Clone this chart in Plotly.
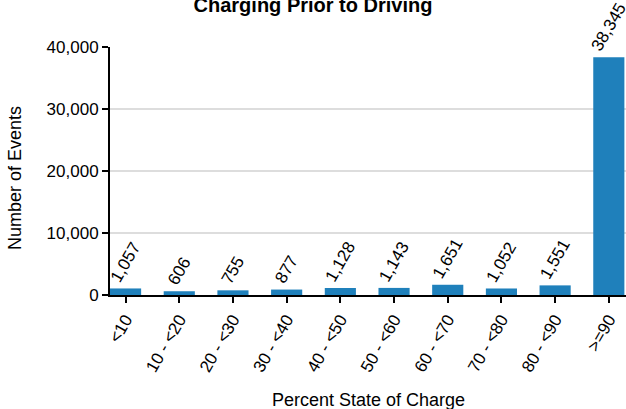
import plotly.graph_objects as go

categories = ["<10", "10 - <20", "20 - <30", "30 - <40", "40 - <50",
              "50 - <60", "60 - <70", "70 - <80", "80 - <90", ">=90"]
events = [1057, 606, 755, 877, 1128, 1143, 1651, 1052, 1551, 38345]
y_ticks = [0, 10000, 20000, 30000, 40000]
y_tick_labels = ["0", "10,000", "20,000", "30,000", "40,000"]

FONT = "Liberation Sans, Arial, sans-serif"

fig = go.Figure(go.Bar(
    x=categories, y=events,
    marker=dict(color="#1f80bb", line=dict(width=0)),
    width=0.58,
    text=[f"{v:,}" for v in events],
    textposition="outside",
    textangle=-60,
    constraintext="none",
    textfont=dict(family=FONT, size=17, color="black"),
    cliponaxis=False,
))

fig.update_layout(
    width=626, height=409,
    margin=dict(l=110, r=0, t=47, b=114),
    paper_bgcolor="white", plot_bgcolor="white",
    showlegend=False,
    title=dict(text="<b>Charging Prior to Driving</b>", x=0.5, xanchor="center",
               y=0.9866, yanchor="middle", yref="container",
               font=dict(family=FONT, size=20, color="black")),
    annotations=[
        dict(text="Percent State of Charge", xref="paper", yref="paper",
             x=0.5, y=-0.423, xanchor="center", yanchor="middle", showarrow=False,
             font=dict(family=FONT, size=18, color="black")),
        dict(text="Number of Events", xref="paper", yref="paper",
             x=-0.184, y=0.472, xanchor="center", yanchor="middle", showarrow=False,
             textangle=-90, font=dict(family=FONT, size=18, color="black")),
    ],
)

fig.update_xaxes(
    type="category", range=[-0.29, 9.32],
    showline=True, linecolor="black", linewidth=2,
    ticks="outside", ticklen=6, tickcolor="black", tickwidth=2,
    tickangle=-60, tickfont=dict(family=FONT, size=17, color="black"),
    showgrid=False, automargin=False,
)
fig.update_yaxes(
    range=[0, 40000], tickvals=y_ticks, ticktext=y_tick_labels,
    showline=True, linecolor="black", linewidth=2,
    ticks="outside", ticklen=6, tickcolor="black", tickwidth=2,
    tickfont=dict(family=FONT, size=17, color="black"),
    showgrid=True, gridcolor="#dddddd", gridwidth=2,
    zeroline=False, automargin=False,
)

fig.write_html("out.html", config={"displayModeBar": False},
               post_script="document.body.style.margin='0';document.body.style.overflow='hidden';")
